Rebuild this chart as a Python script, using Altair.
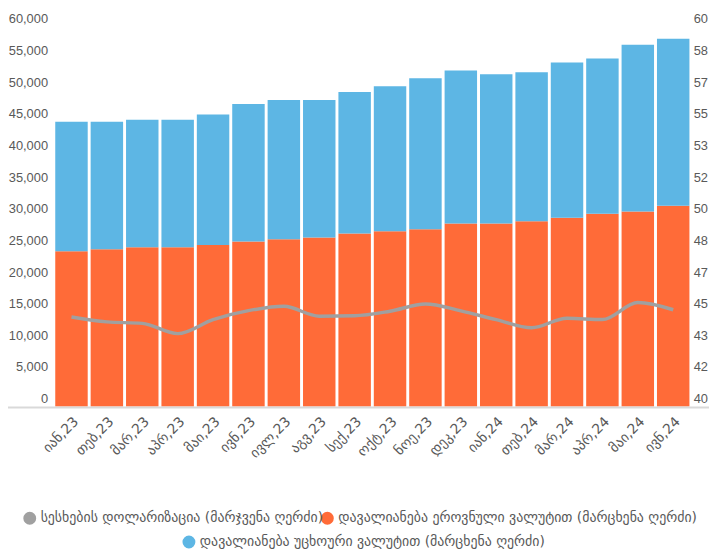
import altair as alt
import pandas as pd

months = ["იან,23", "თებ,23", "მარ,23", "აპრ,23", "მაი,23", "ივნ,23", "ივლ,23", "აგვ,23", "სექ,23",
          "ოქტ,23", "ნოე,23", "დეკ,23", "იან,24", "თებ,24", "მარ,24", "აპრ,24", "მაი,24", "ივნ,24"]
gel_loans = [24530, 24840, 25160, 25160, 25520, 26090, 26450, 26720, 27340,
             27700, 28020, 28910, 28910, 29270, 29840, 30470, 30830, 31720]
fx_loans = [20470, 20160, 20150, 20150, 20620, 21720, 21990, 21720, 22350,
            22930, 23855, 24215, 23590, 23540, 24535, 24530, 26360, 26405]
dollarization = [44.72, 44.46, 44.38, 43.84, 44.58, 45.05, 45.28, 44.76, 44.78,
                 45.02, 45.40, 45.04, 44.58, 44.15, 44.65, 44.58, 45.48, 45.10]

s_dol = "სესხების დოლარიზაცია (მარჯვენა ღერძი)"
s_gel = "დავალიანება ეროვნული ვალუტით (მარცხენა ღერძი)"
s_fx = "დავალიანება უცხოური ვალუტით (მარცხენა ღერძი)"

df = pd.DataFrame({"month": months, "gel": gel_loans, "fx": fx_loans, "dol": dollarization})

ORANGE = "#FF6B38"
BLUE = "#5DB6E4"
GRAY = "#A0A0A0"
TXT = "#595959"
FONT = "DejaVu Sans"
NUMFONT = "Liberation Sans Narrow, Liberation Sans"

W, H = 645, 384

xenc = alt.X("month:N", sort=months, title=None,
             scale=alt.Scale(paddingInner=0.083, paddingOuter=0.05),
             axis=alt.Axis(labelAngle=-45, labelFontSize=14, labelFont=FONT, labelColor=TXT,
                           ticks=False, domain=False, labelPadding=8))


def left_axis():
    return alt.Axis(values=list(range(0, 60001, 5000)), labelExpr="format(datum.value, ',')",
                    labelFontSize=13, labelFont=NUMFONT, labelColor=TXT, ticks=False,
                    domain=False, grid=False, labelPadding=6, labelOffset=-8)


def leg(x, y, fill=None):
    kw = dict(orient="none", legendX=x, legendY=y, title=None, symbolType="circle",
              symbolSize=170, labelFontSize=14, labelFont=FONT, labelColor=TXT,
              symbolStrokeWidth=0, labelOffset=4, labelLimit=0)
    if fill:
        kw["symbolFillColor"] = fill
        kw["symbolStrokeColor"] = fill
    return alt.Legend(**kw)


base = alt.Chart(df)

orange = base.transform_calculate(k="'" + s_gel + "'").mark_bar(color=ORANGE).encode(
    x=xenc,
    y=alt.Y("gel:Q", scale=alt.Scale(domain=[0, 60000], nice=False), axis=left_axis(), title=None),
    color=alt.Color("k:N", scale=alt.Scale(domain=[s_gel], range=[ORANGE]), legend=leg(270, 490)),
)

blue = base.transform_calculate(k="'" + s_fx + "'", total="datum.gel + datum.fx").mark_bar(color=BLUE).encode(
    x=xenc,
    y=alt.Y("total:Q", scale=alt.Scale(domain=[0, 60000], nice=False), axis=left_axis(), title=None),
    y2="gel:Q",
    color=alt.Color("k:N", scale=alt.Scale(domain=[s_fx], range=[BLUE]), legend=leg(130, 514)),
)

bars = alt.layer(orange, blue).resolve_scale(color="independent").resolve_legend(color="independent")

right_vals = [40 + i * 20 / 12 for i in range(13)]
line = base.transform_calculate(k="'" + s_dol + "'").mark_line(
    interpolate="monotone", strokeWidth=3.5, color=GRAY).encode(
    x=xenc,
    y=alt.Y("dol:Q", scale=alt.Scale(domain=[40, 60], nice=False), title=None,
            axis=alt.Axis(orient="right", values=right_vals, labelExpr="format(datum.value, '.0f')",
                          labelFontSize=13, labelFont=NUMFONT, labelColor=TXT, ticks=False,
                          domain=False, grid=False, labelPadding=2, labelOffset=-8)),
    color=alt.Color("k:N", scale=alt.Scale(domain=[s_dol], range=[GRAY]), legend=leg(-31, 490, GRAY)),
)

baseline = alt.Chart(pd.DataFrame({"a": [0]})).mark_rule(color="#D9D9D9", strokeWidth=2).encode(
    x=alt.value(-47), x2=alt.value(W + 20), y=alt.value(H + 1))

chart = alt.layer(bars, line, baseline).resolve_scale(
    y="independent", color="independent").resolve_legend(color="independent").properties(
    width=W, height=H,
    autosize=alt.AutoSizeParams(type="none"),
    padding={"left": 46, "top": 16, "right": 18, "bottom": 141},
).configure_view(stroke=None).configure_axis(grid=False)

chart.save("out.html", embed_options={"renderer": "svg", "actions": False})
